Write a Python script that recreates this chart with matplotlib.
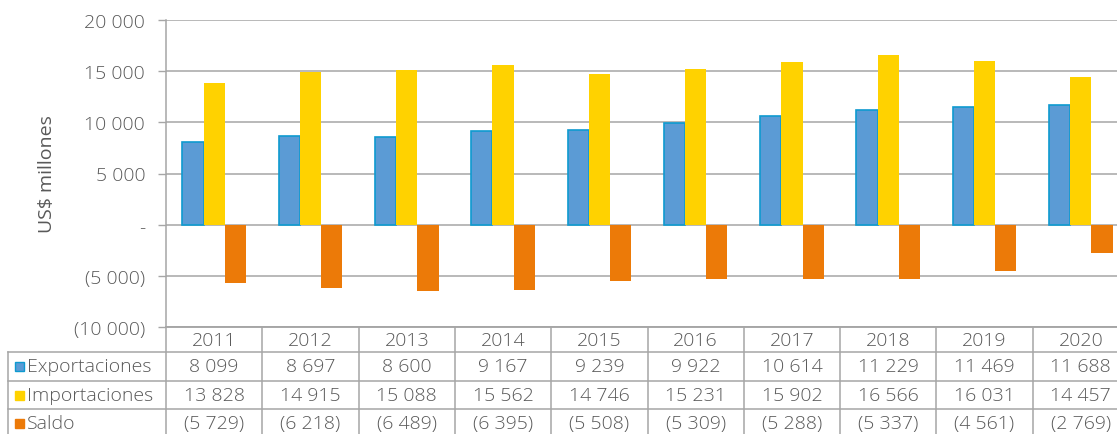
import matplotlib
matplotlib.use("Agg")
import matplotlib.pyplot as plt
import matplotlib.transforms as mtransforms
from matplotlib.lines import Line2D
from matplotlib.patches import Rectangle

years = ["2011", "2012", "2013", "2014", "2015", "2016", "2017", "2018", "2019", "2020"]
exportaciones = [8099, 8697, 8600, 9167, 9239, 9922, 10614, 11229, 11469, 11688]
importaciones = [13828, 14915, 15088, 15562, 14746, 15231, 15902, 16566, 16031, 14457]
saldo = [-5729, -6218, -6489, -6395, -5508, -5309, -5288, -5337, -4561, -2769]
series_names = ["Exportaciones", "Importaciones", "Saldo"]
yticks = [-10000, -5000, 0, 5000, 10000, 15000, 20000]
ytick_labels = ["(10 000)", "(5 000)", "-", "5 000", "10 000", "15 000", "20 000"]

W, H = 1117, 435
plt.rcParams['font.family'] = ['Open Sans', 'DejaVu Sans']
plt.rcParams['font.weight'] = 'light'
txt = '#595959'
grid = '#a6a6a6'
c_exp = '#5b9bd5'
c_exp_edge = '#0e9ad0'
c_imp = '#ffd200'
c_sal = '#ec7a08'
fs = 14

def fmt(v):
    s = "{:,}".format(abs(v)).replace(",", " ")
    if v < 0:
        return "(" + s + ")"
    return s

fig = plt.figure(figsize=(W / 100, H / 100), dpi=100)
ax = fig.add_axes([166 / W, 1 - 328 / H, 963 / W, 307 / H])

x = range(len(years))
w = 0.22
ax.bar([i - w for i in x], exportaciones, w, color=c_exp, edgecolor=c_exp_edge, linewidth=1.2, zorder=3)
ax.bar([i for i in x], importaciones, w, color=c_imp, zorder=3)
ax.bar([i + w for i in x], saldo, w, color=c_sal, zorder=3)

ax.set_xlim(-0.5, 9.5)
ax.set_ylim(-10000, 20000)
ax.set_yticks(yticks)
ax.set_yticklabels(ytick_labels, fontsize=fs, color=txt)
ax.set_xticks([])
ax.tick_params(axis='y', length=6, color=grid, width=1, pad=9)
ax.grid(axis='y', color=grid, linewidth=1.1, zorder=0)
for s in ['top', 'right']:
    ax.spines[s].set_visible(False)
ax.spines['left'].set_color(grid)
ax.spines['bottom'].set_color(grid)
ax.spines['left'].set_linewidth(1.1)
ax.spines['bottom'].set_linewidth(1.1)
ax.set_ylabel("US$ millones", fontsize=14, color=txt, labelpad=13)

# table below the chart
tr = mtransforms.blended_transform_factory(ax.transData, fig.transFigure)
def fy(py):
    return 1 - py / H

rows_y = [328, 353, 382, 410, 438]
# horizontal lines
fig.add_artist(Line2D([166 / W, 1.05], [fy(328)] * 2, color=grid, lw=1.1))
for py in rows_y[1:]:
    fig.add_artist(Line2D([8 / W, 1.05], [fy(py)] * 2, color=grid, lw=1.1))
# vertical lines
fig.add_artist(Line2D([8 / W] * 2, [fy(353), fy(440)], color=grid, lw=1.1))
for k in range(len(years) + 1):
    ax.add_artist(Line2D([k - 0.5] * 2, [fy(328), fy(440)], color=grid, lw=1.1,
                         transform=tr, clip_on=False))

for i, yr in enumerate(years):
    ax.text(i, fy(341), yr, transform=tr, ha='center', va='center', fontsize=fs, color=txt)
    for r, vals in enumerate([exportaciones, importaciones, saldo]):
        yc = (rows_y[r + 1] + rows_y[r + 2]) / 2
        ax.text(i, fy(yc), fmt(vals[i]), transform=tr, ha='center', va='center',
                fontsize=fs, color=txt)

colors = [(c_exp, c_exp_edge), (c_imp, c_imp), (c_sal, c_sal)]
for r, name in enumerate(series_names):
    yc = (rows_y[r + 1] + rows_y[r + 2]) / 2
    fc, ec = colors[r]
    fig.add_artist(Rectangle((15 / W, fy(yc + 4.5)), 9 / W, 9 / H, facecolor=fc,
                             edgecolor=ec, lw=1, transform=fig.transFigure))
    fig.text(27 / W, fy(yc), name, ha='left', va='center', fontsize=fs, color=txt)

fig.savefig("out.png", dpi=100)
